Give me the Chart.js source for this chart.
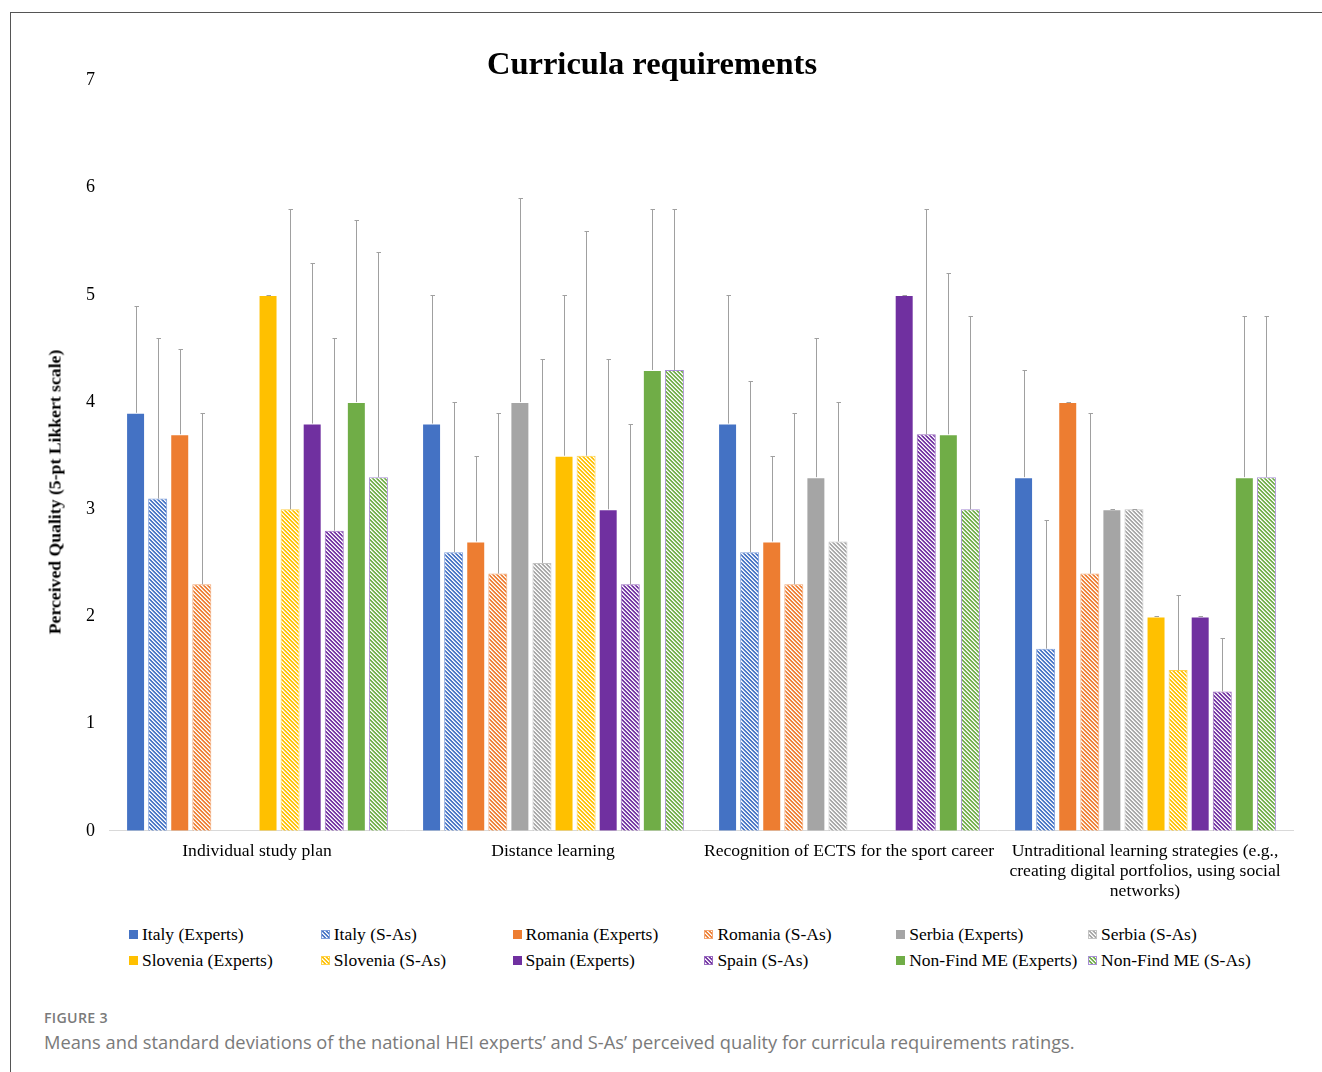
<!DOCTYPE html>
<html>
<head>
<meta charset="utf-8">
<title>Curricula requirements</title>
<script src="https://cdn.jsdelivr.net/npm/chart.js@4.4.1/dist/chart.umd.min.js"></script>
<style>
  html, body { margin: 0; padding: 0; background: #fff; }
  body { width: 1322px; height: 1072px; position: relative; overflow: hidden; }
  #frame { position: absolute; left: 10px; top: 12px; width: 1322px; height: 1072px;
           border-top: 1px solid #555; border-left: 1px solid #555; }
  #chart { position: absolute; left: 11px; top: 13px; }
  #ytitle { position: absolute; left: 55px; top: 492px; transform: translate(-50%, -50%) rotate(-90deg);
            white-space: nowrap; font: bold 17.7px "Liberation Serif", "Times New Roman", serif; color: #000; }
  .lg { position: absolute; height: 20px; display: flex; align-items: center; white-space: nowrap;
        font: 17.5px "Liberation Serif", "Times New Roman", serif; color: #000; }
  .lg canvas { margin-right: 4px; display: block; }
  #figlabel { position: absolute; left: 44px; top: 1008px; font: 600 14.2px "Open Sans", sans-serif;
              color: #7a7a7a; letter-spacing: 0.3px; }
  #caption { position: absolute; left: 44px; top: 1029px; font: 18.3px "Open Sans", sans-serif;
             color: #7a7a7a; white-space: nowrap; }
</style>
</head>
<body>
<div id="frame"></div>
<canvas id="chart" width="1288" height="899"></canvas>
<div id="ytitle">Perceived Quality (5-pt Likkert scale)</div>
<div id="legend"></div>
<div id="figlabel">FIGURE 3</div>
<div id="caption">Means and standard deviations of the national HEI experts’ and S-As’ perceived quality for curricula requirements ratings.</div>

<script>
// Categories on the x axis (multi-line where the label wraps)
const categories = [
  'Individual study plan',
  'Distance learning',
  'Recognition of ECTS for the sport career',
  ['Untraditional learning strategies (e.g.,', 'creating digital portfolios, using social', 'networks)']
];

// Y axis tick values
const yTicks = [0, 1, 2, 3, 4, 5, 6, 7];

// Series names (legend order)
const seriesNames = [
  'Italy (Experts)', 'Italy (S-As)', 'Romania (Experts)', 'Romania (S-As)',
  'Serbia (Experts)', 'Serbia (S-As)', 'Slovenia (Experts)', 'Slovenia (S-As)',
  'Spain (Experts)', 'Spain (S-As)', 'Non-Find ME (Experts)', 'Non-Find ME (S-As)'
];

// Means per category
const italyExperts     = [3.9, 3.8, 3.8, 3.3];
const italySAs         = [3.1, 2.6, 2.6, 1.7];
const romaniaExperts   = [3.7, 2.7, 2.7, 4.0];
const romaniaSAs       = [2.3, 2.4, 2.3, 2.4];
const serbiaExperts    = [null, 4.0, 3.3, 3.0];
const serbiaSAs        = [null, 2.5, 2.7, 3.0];
const sloveniaExperts  = [5.0, 3.5, null, 2.0];
const sloveniaSAs      = [3.0, 3.5, null, 1.5];
const spainExperts     = [3.8, 3.0, 5.0, 2.0];
const spainSAs         = [2.8, 2.3, 3.7, 1.3];
const nonFindExperts   = [4.0, 4.3, 3.7, 3.3];
const nonFindSAs       = [3.3, 4.3, 3.0, 3.3];

// Standard deviations per category
const italyExpertsSd    = [1.0, 1.2, 1.2, 1.0];
const italySAsSd        = [1.5, 1.4, 1.6, 1.2];
const romaniaExpertsSd  = [0.8, 0.8, 0.8, 0];
const romaniaSAsSd      = [1.6, 1.5, 1.6, 1.5];
const serbiaExpertsSd   = [null, 1.9, 1.3, 0];
const serbiaSAsSd       = [null, 1.9, 1.3, 0];
const sloveniaExpertsSd = [0, 1.5, null, 0];
const sloveniaSAsSd     = [2.8, 2.1, null, 0.7];
const spainExpertsSd    = [1.5, 1.4, 0, 0];
const spainSAsSd        = [1.8, 1.5, 2.1, 0.5];
const nonFindExpertsSd  = [1.7, 1.5, 1.5, 1.5];
const nonFindSAsSd      = [2.1, 1.5, 1.8, 1.5];

const seriesMeans = [italyExperts, italySAs, romaniaExperts, romaniaSAs, serbiaExperts, serbiaSAs,
                     sloveniaExperts, sloveniaSAs, spainExperts, spainSAs, nonFindExperts, nonFindSAs];
const seriesSds = [italyExpertsSd, italySAsSd, romaniaExpertsSd, romaniaSAsSd, serbiaExpertsSd, serbiaSAsSd,
                   sloveniaExpertsSd, sloveniaSAsSd, spainExpertsSd, spainSAsSd, nonFindExpertsSd, nonFindSAsSd];

// Country colours (experts solid, S-As hatched)
const countryColors = ['#4472C4', '#ED7D31', '#A5A5A5', '#FFC000', '#7030A0', '#70AD47'];
const hatchBorders  = ['#7f9fdc', '#f3a673', '#c4c4c4', '#ffd24d', '#9a6cc0', '#a88fd6'];

function hexToRgb(h) {
  const n = parseInt(h.slice(1), 16);
  return [(n >> 16) & 255, (n >> 8) & 255, n & 255];
}

// Downward diagonal stripe tile
function hatchTile(color) {
  const c = document.createElement('canvas');
  c.width = 4; c.height = 4;
  const g = c.getContext('2d');
  const img = g.createImageData(4, 4);
  const [r, gg, b] = hexToRgb(color);
  const weights = [1, 0.9, 0, 0.35];
  for (let y = 0; y < 4; y++) {
    for (let x = 0; x < 4; x++) {
      const i = (y * 4 + x) * 4;
      const a = weights[((x - y) % 4 + 4) % 4];
      img.data[i]     = Math.round(r * a + 255 * (1 - a));
      img.data[i + 1] = Math.round(gg * a + 255 * (1 - a));
      img.data[i + 2] = Math.round(b * a + 255 * (1 - a));
      img.data[i + 3] = 255;
    }
  }
  g.putImageData(img, 0, 0);
  return c;
}

const canvas = document.getElementById('chart');
const ctx = canvas.getContext('2d');

const datasets = seriesNames.map((name, k) => {
  const ci = Math.floor(k / 2);
  const hatched = k % 2 === 1;
  const color = countryColors[ci];
  return {
    label: name,
    data: seriesMeans[k],
    sd: seriesSds[k],
    backgroundColor: hatched ? ctx.createPattern(hatchTile(color), 'repeat') : color,
    borderColor: hatched ? hatchBorders[ci] : 'rgba(255,255,255,0.35)',
    borderWidth: 1,
    barPercentage: 0.86,
    categoryPercentage: 0.895
  };
});

// Upper error whiskers (mean to mean + SD)
const errorBars = {
  id: 'errorBars',
  afterDatasetsDraw(chart) {
    const c = chart.ctx;
    const y = chart.scales.y;
    c.save();
    c.strokeStyle = '#a0a0a0';
    c.lineWidth = 1;
    chart.data.datasets.forEach((ds, i) => {
      const meta = chart.getDatasetMeta(i);
      meta.data.forEach((bar, j) => {
        const m = ds.data[j], s = ds.sd[j];
        if (m == null || s == null) return;
        const x = Math.round(bar.x) + 0.5;
        const yBase = y.getPixelForValue(m);
        const yTop = Math.round(y.getPixelForValue(m + s)) + 0.5;
        c.beginPath();
        if (s > 0) { c.moveTo(x, yBase); c.lineTo(x, yTop); }
        c.moveTo(x - 2, yTop); c.lineTo(x + 2.5, yTop);
        c.stroke();
      });
    });
    c.restore();
  }
};

const serif = '"Liberation Serif", "Times New Roman", serif';

new Chart(ctx, {
  type: 'bar',
  data: { labels: categories, datasets },
  plugins: [errorBars],
  options: {
    responsive: false,
    animation: false,
    devicePixelRatio: 1,
    layout: { padding: { left: 0, right: 6, top: 0, bottom: 0 } },
    plugins: {
      legend: { display: false },
      tooltip: { enabled: false },
      title: {
        display: true,
        text: 'Curricula requirements',
        color: '#000',
        font: { family: serif, size: 32.5, weight: 'bold', lineHeight: 0.9 },
        padding: { top: 38.3, bottom: 0 }
      }
    },
    scales: {
      x: {
        grid: { display: false, drawTicks: false },
        border: { display: true, color: '#d9d9d9', width: 1 },
        ticks: {
          color: '#000',
          padding: 11,
          maxRotation: 0,
          autoSkip: false,
          font: { family: serif, size: 17.6, lineHeight: 1.12 }
        }
      },
      y: {
        min: yTicks[0],
        max: yTicks[yTicks.length - 1],
        afterFit(scale) { scale.width = 98; },
        afterBuildTicks(scale) { scale.ticks = yTicks.map(v => ({ value: v })); },
        grid: { display: false, drawTicks: false },
        border: { display: false },
        ticks: {
          color: '#000',
          padding: 14,
          font: { family: serif, size: 18 }
        }
      }
    }
  }
});

// Legend: two rows of six entries
const legend = document.getElementById('legend');
seriesNames.forEach((name, k) => {
  const ci = Math.floor(k / 2);
  const hatched = k % 2 === 1;
  const row = Math.floor(k / 6), col = k % 6;
  const item = document.createElement('div');
  item.className = 'lg';
  item.style.left = (129 + col * 191.8) + 'px';
  item.style.top = (924 + row * 26) + 'px';
  const sw = document.createElement('canvas');
  sw.width = 9; sw.height = 9;
  const g = sw.getContext('2d');
  if (hatched) {
    g.fillStyle = g.createPattern(hatchTile(countryColors[ci]), 'repeat');
    g.fillRect(0, 0, 9, 9);
    g.strokeStyle = hatchBorders[ci];
    g.strokeRect(0.5, 0.5, 8, 8);
  } else {
    g.fillStyle = countryColors[ci];
    g.fillRect(0, 0, 9, 9);
  }
  item.appendChild(sw);
  const t = document.createElement('span');
  t.textContent = name;
  item.appendChild(t);
  legend.appendChild(item);
});
</script>
</body>
</html>
